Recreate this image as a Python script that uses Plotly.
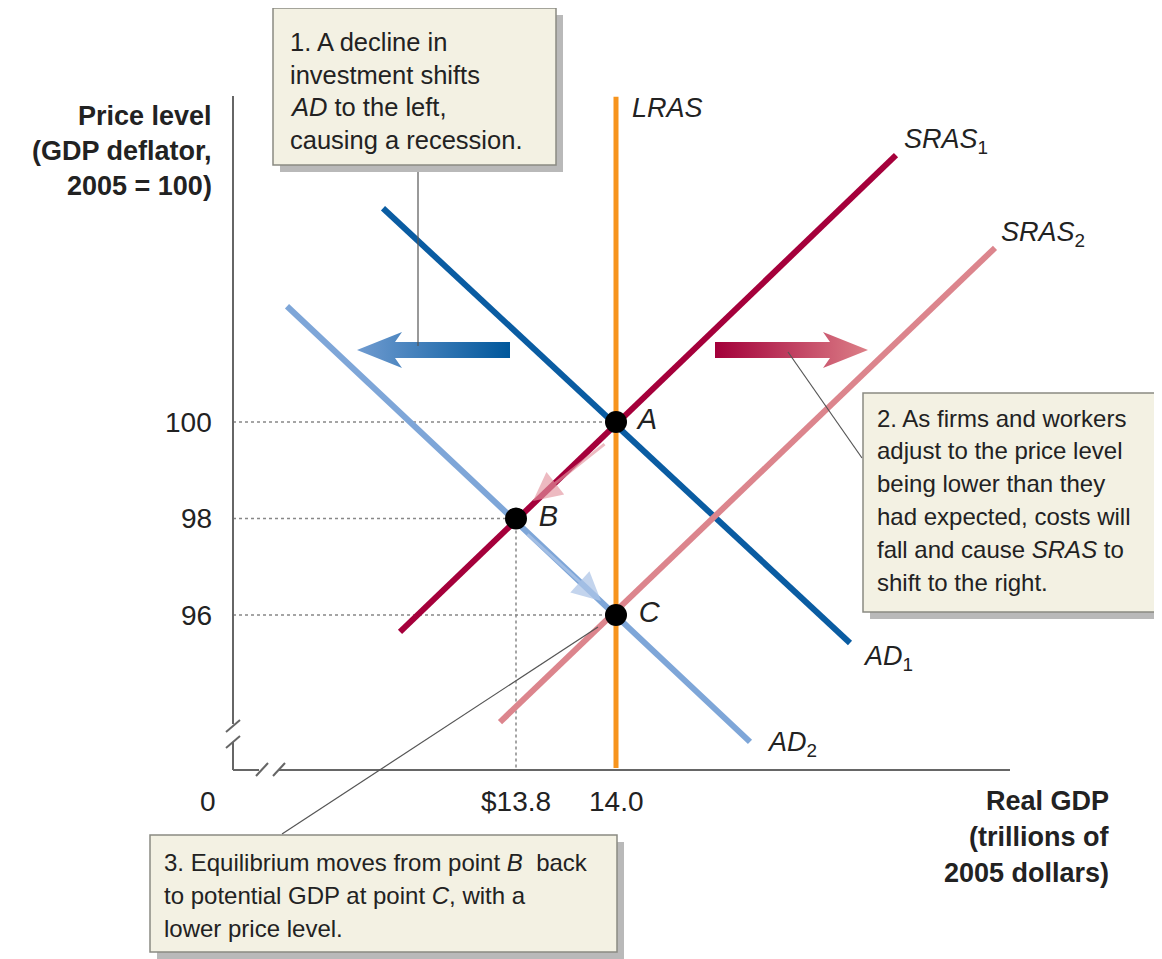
import plotly.graph_objects as go

W, H = 1162, 959
OFF = 8  # page body margin, the figure starts 8px in

# ---- data (real GDP in trillions of 2005 dollars, price level 2005 = 100)
price_ticks = [100, 98, 96]
gdp_ticks = [13.8, 14.0]
gdp_tick_labels = ["$13.8", "14.0"]

ad1_x = [13.534, 14.468]
ad1_y = [104.43, 95.42]
ad2_x = [13.342, 14.268]
ad2_y = [102.40, 93.37]
sras1_x = [13.568, 14.560]
sras1_y = [95.65, 105.53]
sras2_x = [13.768, 14.758]
sras2_y = [93.78, 103.61]
lras_x = [14.0, 14.0]
lras_y = [92.83, 106.74]

eq_names = ["A", "B", "C"]
eq_x = [14.0, 13.8, 14.0]
eq_y = [100, 98, 96]

# ---- pixel <-> data helpers for layout placement
X_PER_PX = 1 / 500
Y_PER_PX = 1 / 48.25


def X(p):
    return 14.0 + (p - 616) * X_PER_PX


def Y(p):
    return 100 - (p - 422) * Y_PER_PX


def fx(p):
    return (p - OFF) / (W - OFF)


def fy(p):
    return 1 - (p - OFF) / (H - OFF)


FONT = "Liberation Sans, Arial, Helvetica, sans-serif"
x0, y0 = X(233), Y(770)

fig = go.Figure()

# shift arrows (gradient filled)
def arrow_poly(x_from, x_to, y, shaft=0.166, head=0.373, head_len=0.09):
    d = 1 if x_to > x_from else -1
    xb = x_to - d * head_len
    xs = [x_from, xb + d * 0.014, xb, x_to, xb, xb + d * 0.014, x_from, x_from]
    ys = [y + shaft, y + shaft, y + head, y, y - head, y - shaft, y - shaft, y + shaft]
    return xs, ys


bx, by = arrow_poly(X(510), X(357), Y(350))
fig.add_trace(go.Scatter(x=bx, y=by, fill="toself", mode="lines", line=dict(width=0),
                         fillgradient=dict(type="horizontal",
                                           colorscale=[[0, "#6f9bd0"], [1, "#00579b"]]),
                         hoverinfo="skip", showlegend=False))
rx, ry = arrow_poly(X(715), X(868), Y(350))
fig.add_trace(go.Scatter(x=rx, y=ry, fill="toself", mode="lines", line=dict(width=0),
                         fillgradient=dict(type="horizontal",
                                           colorscale=[[0, "#a3003a"], [1, "#dc7f87"]]),
                         hoverinfo="skip", showlegend=False))

# curves
curves = [
    (ad1_x, ad1_y, "#0a5ca2", 6),
    (ad2_x, ad2_y, "#7ea6d8", 6),
    (sras1_x, sras1_y, "#a5003b", 6),
    (sras2_x, sras2_y, "#dc858d", 6),
    (lras_x, lras_y, "#f7941d", 5),
]
for cx, cy, col, w in curves:
    fig.add_trace(go.Scatter(x=cx, y=cy, mode="lines", line=dict(color=col, width=w),
                             hoverinfo="skip", showlegend=False))

# equilibrium points
fig.add_trace(go.Scatter(x=eq_x, y=eq_y, mode="markers+text", text=eq_names,
                         textposition="middle right",
                         textfont=dict(family=FONT, size=29, color="#222"),
                         texttemplate="<i> %{text}</i>",
                         marker=dict(size=22, color="black"),
                         hoverinfo="skip", showlegend=False))

shapes = []
# dotted guides
for ex, ey in zip(eq_x, eq_y):
    shapes.append(dict(type="line", x0=x0, x1=ex, y0=ey, y1=ey,
                       line=dict(color="#888", width=1.5, dash="dot"), layer="below"))
shapes.append(dict(type="line", x0=eq_x[1], x1=eq_x[1], y0=eq_y[1], y1=y0,
                   line=dict(color="#888", width=1.5, dash="dot"), layer="below"))

# broken axes
ax_line = dict(color="#666", width=2)
shapes += [
    dict(type="line", x0=x0, x1=x0, y0=Y(96), y1=Y(724), line=ax_line),
    dict(type="line", x0=x0, x1=x0, y0=Y(742), y1=y0, line=ax_line),
    dict(type="line", x0=x0, x1=X(259), y0=y0, y1=y0, line=ax_line),
    dict(type="line", x0=X(278), x1=X(1010), y0=y0, y1=y0, line=ax_line),
    dict(type="line", x0=X(226), x1=X(240), y0=Y(732), y1=Y(720), line=ax_line),
    dict(type="line", x0=X(226), x1=X(240), y0=Y(748), y1=Y(736), line=ax_line),
    dict(type="line", x0=X(256), x1=X(268), y0=Y(776), y1=Y(763), line=ax_line),
    dict(type="line", x0=X(273), x1=X(285), y0=Y(776), y1=Y(763), line=ax_line),
]

# leader lines
lead = dict(color="#555", width=1.2)
shapes += [
    dict(type="line", x0=X(418), x1=X(418), y0=Y(166), y1=Y(346), line=lead),
    dict(type="line", x0=X(788), x1=X(862), y0=Y(352), y1=Y(458), line=lead),
    dict(type="line", x0=X(598), x1=X(282), y0=Y(627), y1=Y(834), line=lead),
]

# callout boxes with shadows
boxes = [(273, 8, 556, 165), (863, 393, 1157, 612), (150, 835, 617, 952)]
for l, t, r, b in boxes:
    shapes.append(dict(type="rect", xref="paper", yref="paper",
                       x0=fx(l + 7), x1=fx(r + 7), y0=fy(t + 7), y1=fy(b + 7),
                       fillcolor="#b9b9b9", line=dict(width=0)))
    shapes.append(dict(type="rect", xref="paper", yref="paper",
                       x0=fx(l), x1=fx(r), y0=fy(t), y1=fy(b),
                       fillcolor="#f3f1e3", line=dict(color="#8a8a82", width=1.5)))

annotations = []


def text_lines(lines, left, top, step, size):
    for i, s in enumerate(lines):
        annotations.append(dict(xref="paper", yref="paper", x=fx(left), y=fy(top + i * step),
                                text=s, showarrow=False, xanchor="left", yanchor="middle",
                                font=dict(family=FONT, size=size, color="#222")))


text_lines(["1. A decline in", "investment shifts", "<i>AD</i> to the left,",
            "causing a recession."], 288, 42, 32.7, 25.5)
text_lines(["2. As firms and workers", "adjust to the price level",
            "being lower than they", "had expected, costs will",
            "fall and cause <i>SRAS</i> to", "shift to the right."], 875, 418, 32.8, 24)
text_lines(["3. Equilibrium moves from point <i>B</i>  back",
            "to potential GDP at point <i>C</i>, with a", "lower price level."], 162, 862, 33, 24)

# axis titles
for i, s in enumerate(["Price level", "(GDP deflator,", "2005 = 100)"]):
    annotations.append(dict(xref="paper", yref="paper", x=fx(214), y=fy(116 + i * 35),
                            text=f"<b>{s}</b>", showarrow=False, xanchor="right", yanchor="middle",
                            font=dict(family=FONT, size=27, color="#222")))
for i, s in enumerate(["Real GDP", "(trillions of", "2005 dollars)"]):
    annotations.append(dict(xref="paper", yref="paper", x=fx(1111), y=fy(801 + i * 36),
                            text=f"<b>{s}</b>", showarrow=False, xanchor="right", yanchor="middle",
                            font=dict(family=FONT, size=27, color="#222")))

# tick labels
for v in price_ticks:
    annotations.append(dict(x=X(214), y=v, text=str(v), showarrow=False, xanchor="right",
                            yanchor="middle", font=dict(family=FONT, size=28, color="#222")))
for v, s in zip(gdp_ticks, gdp_tick_labels):
    annotations.append(dict(x=v, y=Y(801), text=s, showarrow=False, xanchor="center",
                            yanchor="middle", font=dict(family=FONT, size=28, color="#222")))
annotations.append(dict(x=X(208), y=Y(801), text="0", showarrow=False,
                        font=dict(family=FONT, size=28, color="#222")))

# curve labels
curve_labels = [("<i>LRAS</i>", 630, 108), ("<i>SRAS</i><sub>1</sub>", 902, 141),
                ("<i>SRAS</i><sub>2</sub>", 999, 234), ("<i>AD</i><sub>1</sub>", 861, 658),
                ("<i>AD</i><sub>2</sub>", 765, 744)]
for s, px_, py_ in curve_labels:
    annotations.append(dict(xref="paper", yref="paper", x=fx(px_), y=fy(py_), text=s,
                            showarrow=False, xanchor="left", yanchor="middle",
                            font=dict(family=FONT, size=27, color="#222")))

# movement arrows along the curves (A -> B, B -> C)
annotations.append(dict(x=X(533), y=Y(501), ax=X(606), ay=Y(443), axref="x", ayref="y",
                        showarrow=True, arrowhead=2, arrowsize=1.9, arrowwidth=3,
                        arrowcolor="rgba(228,150,160,0.65)", text=""))
annotations.append(dict(x=X(601), y=Y(601), ax=X(526), ay=Y(533), axref="x", ayref="y",
                        showarrow=True, arrowhead=2, arrowsize=1.9, arrowwidth=3,
                        arrowcolor="rgba(175,198,232,0.75)", text=""))

fig.update_layout(
    width=W - OFF, height=H - OFF,
    margin=dict(l=0, r=0, t=0, b=0),
    paper_bgcolor="white", plot_bgcolor="white",
    xaxis=dict(range=[X(OFF), X(W)], visible=False, fixedrange=True),
    yaxis=dict(range=[Y(H), Y(OFF)], visible=False, fixedrange=True),
    shapes=shapes, annotations=annotations, showlegend=False,
)

fig.write_html("out.html")
